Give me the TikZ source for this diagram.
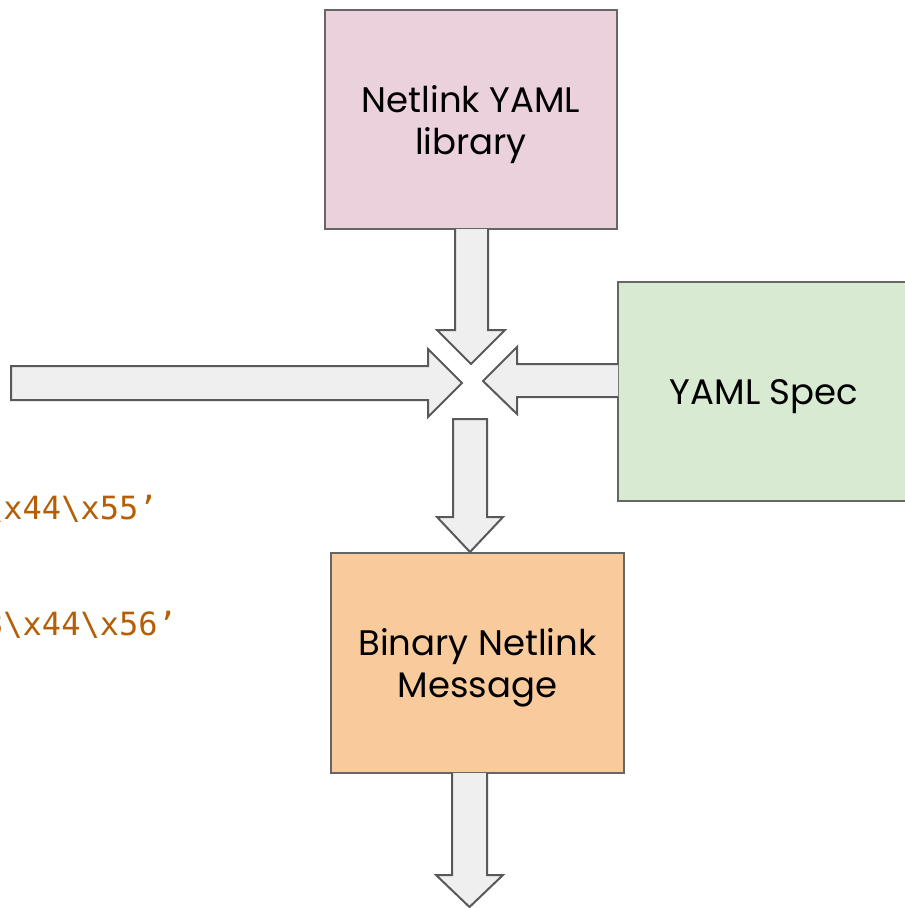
\documentclass[tikz,border=0pt]{standalone}
\usepackage{fontspec}
\setmainfont{Poppins}
\setmonofont{DejaVu Sans Mono}
\definecolor{pinkbox}{HTML}{EAD1DC}
\definecolor{greenbox}{HTML}{D9EAD3}
\definecolor{orangebox}{HTML}{F9CB9C}
\definecolor{edge}{HTML}{666666}
\definecolor{arrowfill}{HTML}{EFEFEF}
\definecolor{arrowedge}{HTML}{595959}
\definecolor{bytes}{HTML}{B45F06}
\begin{document}
\begin{tikzpicture}[x=1pt,y=-1pt,
  box/.style={draw=edge,line width=1.4pt,rectangle,inner sep=0pt},
  boxtext/.style={inner sep=0pt,align=center,yshift=-5pt,
    font=\fontsize{35.5}{42}\selectfont},
  blockarrow/.style={draw=arrowedge,fill=arrowfill,line width=2pt,line join=miter},
  bytetext/.style={anchor=base west,inner sep=0pt,text=bytes,
    font=\ttfamily\fontsize{32}{36}\selectfont}]
\useasboundingbox (0,0) rectangle (905,908);
\clip (0,0) rectangle (905,908);

% boxes
\node[box,fill=pinkbox,minimum width=292pt,minimum height=219pt] (lib) at (471,119.5) {};
\node[box,fill=greenbox,minimum width=292pt,minimum height=219pt] (spec) at (764,391.5) {};
\node[box,fill=orangebox,minimum width=293pt,minimum height=220pt] (msg) at (477.5,663) {};
\node[boxtext] (libtext) at (lib.center) {Netlink YAML\\library};
\node[boxtext] (spectext) at (spec.center) {YAML Spec};
\node[boxtext] (msgtext) at (msg.center) {Binary Netlink\\Message};

% byte strings running in from the left
\node[bytetext] (b1) at (-16,519) {\textbackslash x44\textbackslash x55’};
\node[bytetext] (b2) at (-16,635) {3\textbackslash x44\textbackslash x56’};

% library -> centre
\draw[blockarrow] (455,229) -- (455,330) -- (437,330) -- (471,364) -- (505,330)
  -- (488,330) -- (488,229);
% spec -> centre
\draw[blockarrow] (618,364) -- (517,364) -- (517,347) -- (483,381) -- (517,414)
  -- (517,397) -- (618,397);
% bytes -> centre
\draw[blockarrow] (11,366) -- (428,366) -- (428,349) -- (462,383) -- (428,417)
  -- (428,400) -- (11,400) -- cycle;
% centre -> message
\draw[blockarrow] (453,419) -- (487,419) -- (487,517) -- (503,517) -- (470,552)
  -- (437,517) -- (453,517) -- cycle;
% message -> out
\draw[blockarrow] (452,773) -- (452,875) -- (436,875) -- (469.5,907) -- (503,875)
  -- (487,875) -- (487,773);
\end{tikzpicture}
\end{document}
